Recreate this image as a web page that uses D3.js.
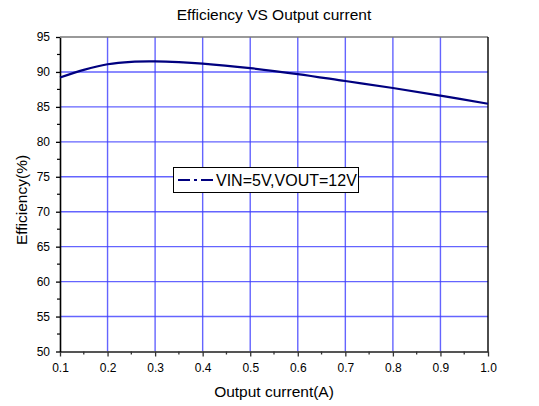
<!DOCTYPE html>
<html><head><meta charset="utf-8">
<script src="https://cdn.jsdelivr.net/npm/d3@7"></script>
<style>body{margin:0;background:#fff}svg{display:block;font-family:"Liberation Sans",Arial,sans-serif}</style>
</head><body><svg id="c" width="539" height="406"></svg>
<script>
const current = [0.1,0.15,0.2,0.25,0.3,0.35,0.4,0.5,0.6,0.7,0.8,0.9,1.0];
const efficiency = [89.2,90.3,91.1,91.45,91.5,91.4,91.2,90.55,89.7,88.7,87.7,86.6,85.45];
const xTicks = [0.1,0.2,0.3,0.4,0.5,0.6,0.7,0.8,0.9,1.0];
const yTicks = [50,55,60,65,70,75,80,85,90,95];
const seriesName = "VIN=5V,VOUT=12V";
const title = "Efficiency VS Output current";
const xLabel = "Output current(A)";
const yLabel = "Efficiency(%)";

const svg = d3.select("#c");
const L=60, R=488, T=37, B=351.5;
const x = d3.scaleLinear().domain([0.1,1.0]).range([L,R]);
const y = d3.scaleLinear().domain([50,95]).range([B,T]);

// grid
const grid = svg.append("g").attr("stroke","#3d3dff").attr("stroke-opacity",0.8).attr("stroke-width",1.4);
grid.selectAll("line.v").data(xTicks.slice(1,-1)).join("line")
  .attr("x1",d=>x(d)).attr("x2",d=>x(d)).attr("y1",T).attr("y2",B);
grid.selectAll("line.h").data(yTicks.slice(1,-1)).join("line")
  .attr("y1",d=>y(d)).attr("y2",d=>y(d)).attr("x1",L).attr("x2",R);

// axes
const fmt = d3.format(".1f");
const minorX = d3.range(0.15,1.0,0.1);
const minorY = d3.range(52.5,95,5);
const xAxis = svg.append("g").attr("transform",`translate(0,${B})`)
  .call(d3.axisBottom(x).tickValues(xTicks).tickFormat(fmt).tickSize(5).tickSizeOuter(0).tickPadding(7));
xAxis.select(".domain").attr("stroke","#555").attr("stroke-width",2.2);
xAxis.selectAll(".tick line").attr("stroke","#333").attr("stroke-width",1.3);
xAxis.selectAll("text").attr("font-size",12).attr("fill","#000").attr("font-family","Liberation Sans, Arial, sans-serif");
svg.append("g").selectAll("line").data(minorX).join("line")
  .attr("x1",d=>x(d)).attr("x2",d=>x(d)).attr("y1",B).attr("y2",B+3).attr("stroke","#333").attr("stroke-width",1.3);

const yAxis = svg.append("g").attr("transform",`translate(${L},0)`)
  .call(d3.axisLeft(y).tickValues(yTicks).tickSize(4).tickSizeOuter(0).tickPadding(6));
yAxis.select(".domain").attr("stroke","#000").attr("stroke-width",1.6);
yAxis.selectAll(".tick line").attr("stroke","#000").attr("stroke-width",1.3);
yAxis.selectAll("text").attr("font-size",12).attr("fill","#000").attr("font-family","Liberation Sans, Arial, sans-serif");
svg.append("g").selectAll("line").data(minorY).join("line")
  .attr("y1",d=>y(d)).attr("y2",d=>y(d)).attr("x1",L).attr("x2",L-3).attr("stroke","#000").attr("stroke-width",1.2);

// top & right
svg.append("line").attr("x1",L).attr("x2",R).attr("y1",T).attr("y2",T).attr("stroke","#777").attr("stroke-width",1.6);
svg.append("line").attr("x1",R).attr("x2",R).attr("y1",T).attr("y2",B).attr("stroke","#000").attr("stroke-width",1.4);

// curve
const line = d3.line().x((d,i)=>x(current[i])).y(d=>y(d)).curve(d3.curveCatmullRom.alpha(0.5));
svg.append("path").datum(efficiency).attr("d",line).attr("fill","none")
  .attr("stroke","#00007f").attr("stroke-width",2.2);

// legend
const lg = svg.append("g");
lg.append("rect").attr("x",173.5).attr("y",167.5).attr("width",185).attr("height",25)
  .attr("fill","#fff").attr("stroke","#000").attr("stroke-width",1);
lg.append("line").attr("x1",178).attr("x2",213).attr("y1",180).attr("y2",180)
  .attr("stroke","#00007f").attr("stroke-width",2.2).attr("stroke-dasharray","12,4,3,4,12");
lg.append("text").attr("x",216).attr("y",186).attr("font-size",16).text(seriesName);

// titles
svg.append("text").attr("x",274).attr("y",20).attr("text-anchor","middle").attr("font-size",15.5).text(title);
svg.append("text").attr("x",274).attr("y",397).attr("text-anchor","middle").attr("font-size",15.5).text(xLabel);
svg.append("text").attr("transform","translate(27,200) rotate(-90)").attr("text-anchor","middle").attr("font-size",15.5).text(yLabel);
</script></body></html>
